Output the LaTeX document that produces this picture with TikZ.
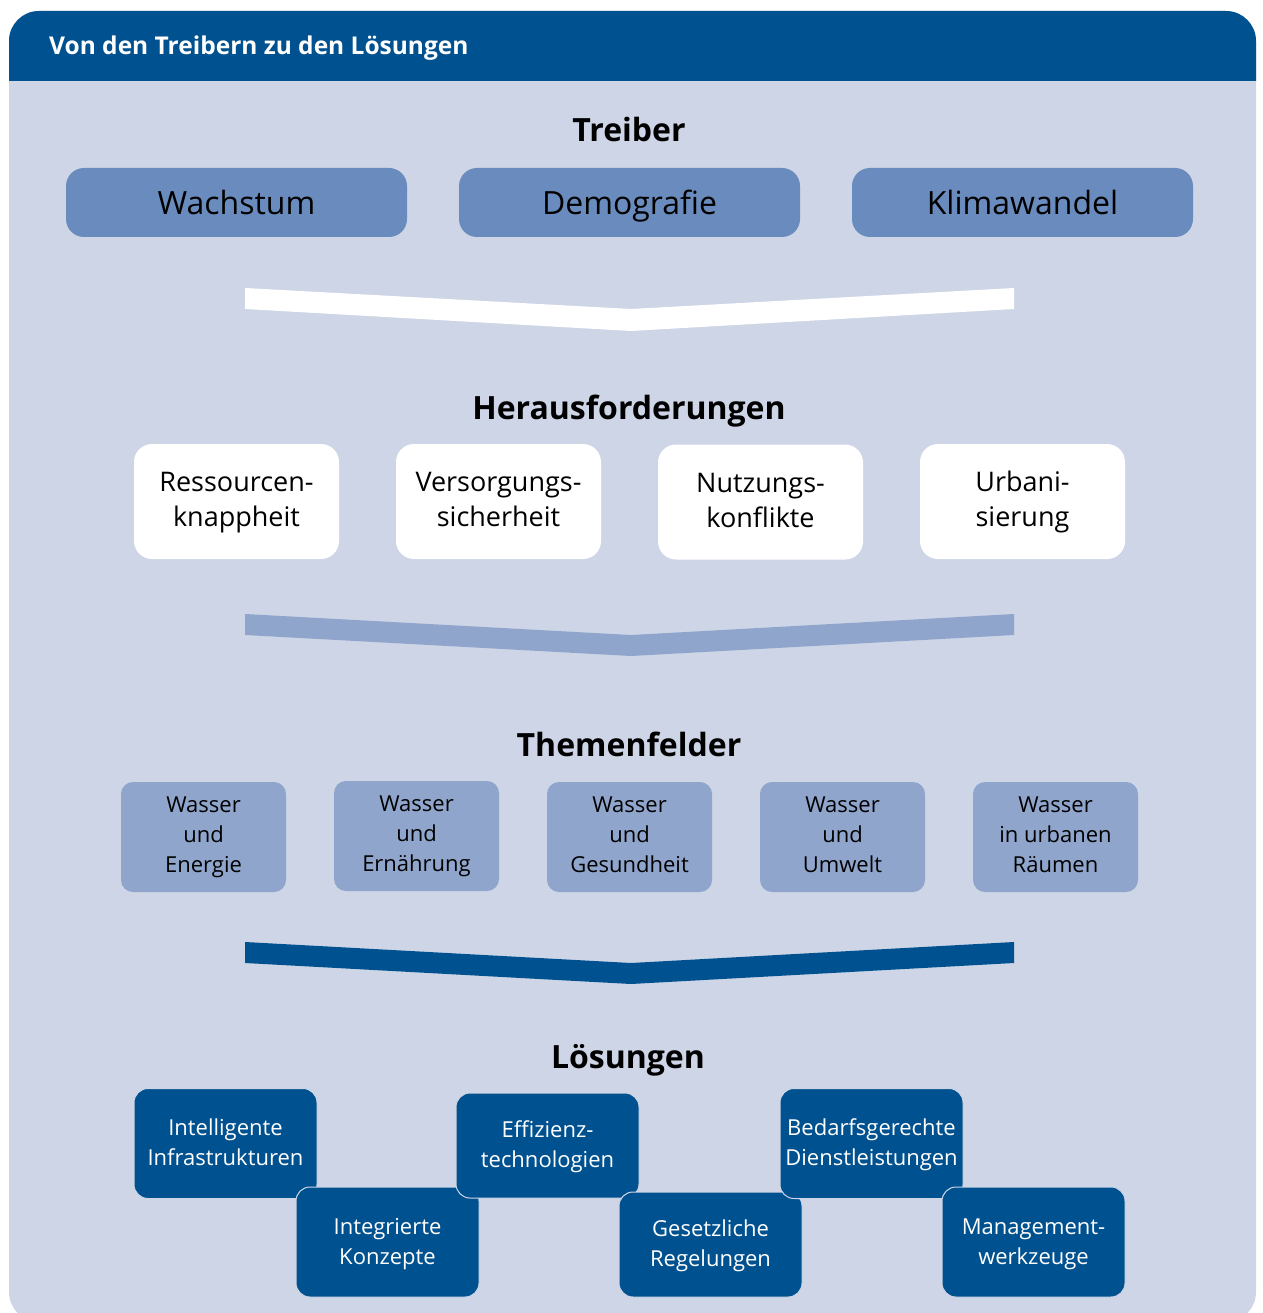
\documentclass[tikz,border=0pt]{standalone}
\usepackage{fontspec}
\setmainfont{Open Sans}
\definecolor{hdr}{HTML}{00518F}
\definecolor{bgc}{HTML}{CDD5E6}
\definecolor{drv}{HTML}{6A8BBD}
\definecolor{thm}{HTML}{8FA5CC}
\newcommand{\strutpair}[2]{\def\hT{\rule{0pt}{#1}}\def\dB{\rule[-#2]{0pt}{#2}}}
\begin{document}
\begin{tikzpicture}[x=1pt,y=-1pt,
  driver/.style={fill=drv, rounded corners=18pt, minimum width=341pt, minimum height=69pt, inner sep=0pt, font=\fontsize{32}{38}\selectfont, text height=23.7pt, text depth=0pt, text=black},
  challenge/.style={fill=white, rounded corners=18pt, minimum width=205pt, minimum height=115pt, inner sep=0pt, align=center, font={\fontsize{27}{35}\selectfont\strutpair{23pt}{8pt}}, text=black},
  theme/.style={fill=thm, rounded corners=12pt, minimum width=165pt, minimum height=110pt, inner sep=0pt, align=center, font={\fontsize{22}{30}\selectfont\strutpair{16.4pt}{6pt}}, text=black},
  solution/.style={fill=hdr, draw=bgc, line width=1pt, rounded corners=14pt, minimum width=183pt, minimum height=110pt, inner sep=0pt, align=center, font={\fontsize{22}{30}\selectfont\strutpair{20pt}{6pt}}, text=white},
  sectitle/.style={anchor=base, font=\bfseries\fontsize{32}{38}\selectfont, text=black, inner sep=0pt}
]
\useasboundingbox (0,0) rectangle (1262,1313);
\begin{scope}
  \clip (0,0) rectangle (1262,1313);
  \fill[bgc, rounded corners=30pt] (9,11) rectangle (1256,1322);
\end{scope}
\begin{scope}
  \clip (0,0) rectangle (1262,81);
  \fill[hdr, rounded corners=30pt] (9,11) rectangle (1256,200);
\end{scope}
\node[anchor=base west, text=white, font=\bfseries\fontsize{24.5}{28}\selectfont, inner sep=0pt] (title) at (49,55) {Von den Treibern zu den Lösungen};

% Treiber
\node[sectitle] (treiber) at (629,141.5) {Treiber};
\node[driver] (wach) at (236.5,202.5) {Wachstum};
\node[driver] (demo) at (629.5,202.5) {Demografie};
\node[driver] (klima) at (1022.5,202.5) {Klimawandel};

\fill[white] (245,288) -- (631,309) -- (1014,288) -- (1014,309) -- (631,331) -- (245,309) -- cycle;

% Herausforderungen
\node[sectitle] (heraus) at (629,419) {Herausforderungen};
\node[challenge] (ress) at (236.5,501.5) {\hT Ressourcen-\\knappheit\dB};
\node[challenge] (vers) at (498.5,501.5) {\hT Versorgungs-\\sicherheit\dB};
\node[challenge] (nutz) at (760.5,502) {\hT Nutzungs-\\konflikte\dB};
\node[challenge] (urban) at (1022.5,501.5) {\hT Urbani-\\sierung\dB};

\fill[thm] (245,614) -- (631,635) -- (1014,614) -- (1014,635) -- (631,656) -- (245,635) -- cycle;

% Themenfelder
\node[sectitle] (themen) at (629,756) {Themenfelder};
\node[theme] (t1) at (203.5,837) {\hT Wasser\\und\\Energie\dB};
\node[theme] (t2) at (416.5,836) {\hT Wasser\\und\\Ernährung\dB};
\node[theme] (t3) at (629.5,837) {\hT Wasser\\und\\Gesundheit\dB};
\node[theme] (t4) at (842.5,837) {\hT Wasser\\und\\Umwelt\dB};
\node[theme] (t5) at (1055.5,837) {\hT Wasser\\in urbanen\\Räumen\dB};

\fill[hdr] (245,942) -- (631,963) -- (1014,942) -- (1014,963) -- (631,984) -- (245,963) -- cycle;

% Lösungen
\node[sectitle] (loes) at (628,1068) {Lösungen};
\node[solution] (s1) at (225.5,1143.5) {\hT Intelligente\\Infrastrukturen\dB};
\node[solution] (s2) at (387.5,1242) {\hT Integrierte\\Konzepte\dB};
\node[solution, minimum height=105pt] (s3) at (547.5,1145.5) {\hT Effizienz-\\technologien\dB};
\node[solution, minimum height=105pt] (s4) at (710.5,1244.5) {\hT Gesetzliche\\Regelungen\dB};
\node[solution] (s5) at (871.5,1143.5) {\hT Bedarfsgerechte\\Dienstleistungen\dB};
\node[solution] (s6) at (1033.5,1242) {\hT Management-\\werkzeuge\dB};
\end{tikzpicture}
\end{document}
